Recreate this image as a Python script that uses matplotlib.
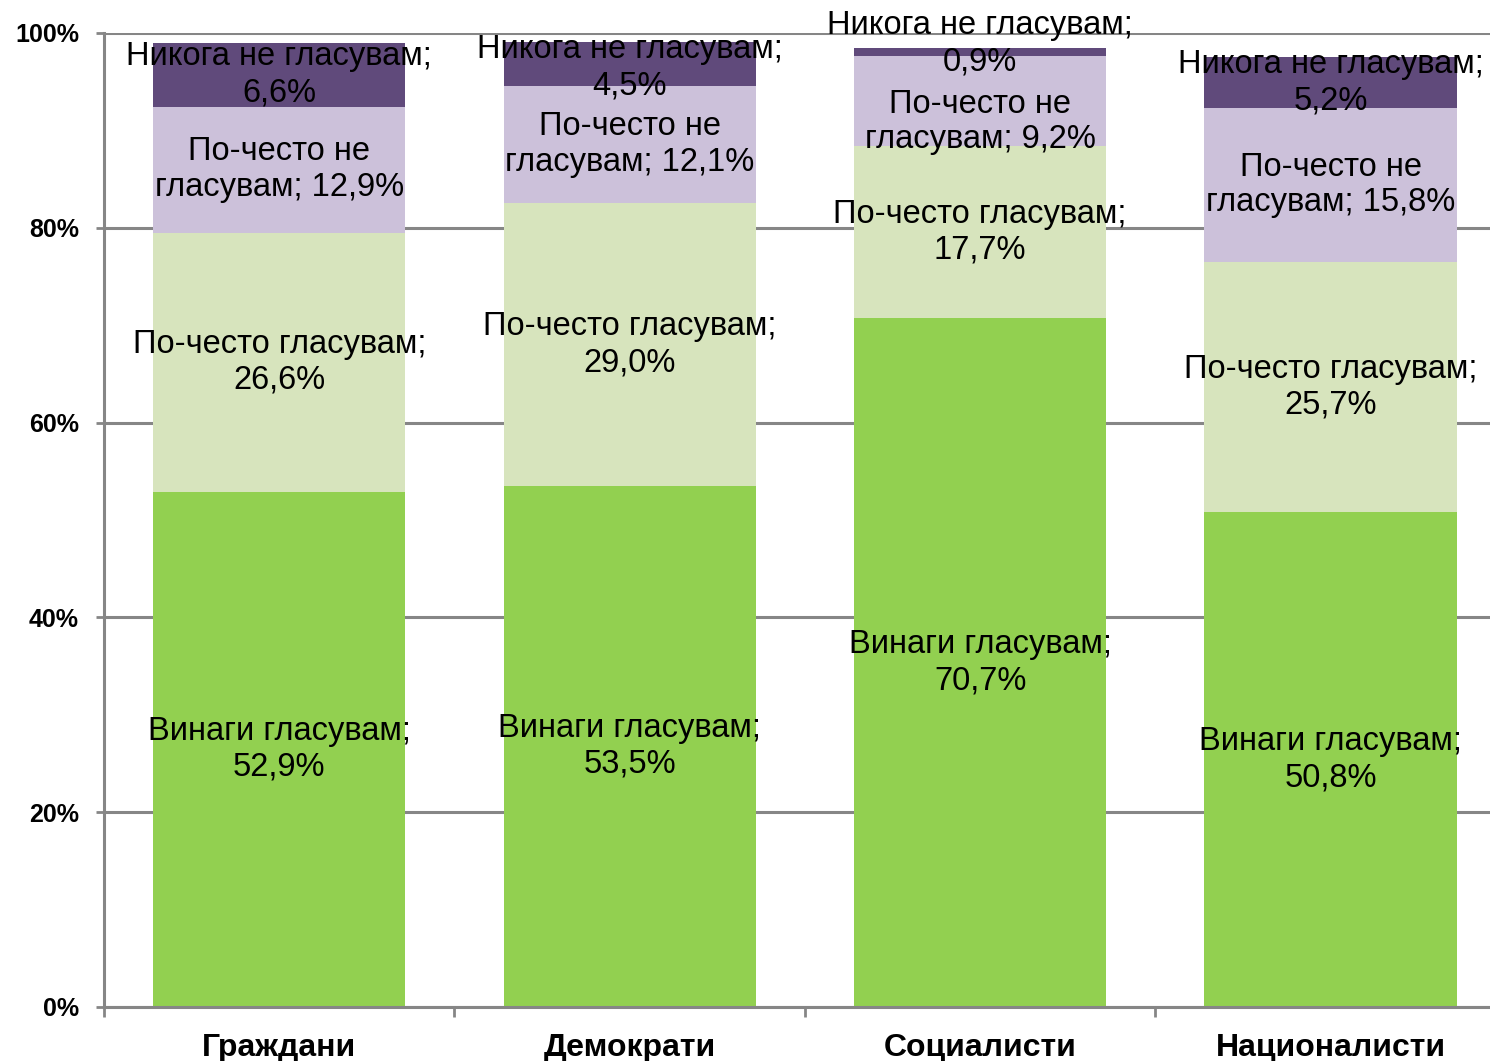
import matplotlib
matplotlib.use("Agg")
import matplotlib.pyplot as plt
import numpy as np

plt.rcParams['font.family'] = ['Liberation Sans', 'DejaVu Sans']

categories = ["Граждани", "Демократи", "Социалисти", "Националисти"]
series_names = ["Винаги гласувам", "По-често гласувам", "По-често не гласувам", "Никога не гласувам"]
always = [52.9, 53.5, 70.7, 50.8]
more_often = [26.6, 29.0, 17.7, 25.7]
more_often_not = [12.9, 12.1, 9.2, 15.8]
never = [6.6, 4.5, 0.9, 5.2]
yticks = [0, 20, 40, 60, 80, 100]

colors = ["#92D050", "#D7E4BD", "#CCC1DA", "#604A7B"]
label_fmt = ["{name};\n{val}", "{name};\n{val}", "По-често не\nгласувам; {val}", "{name};\n{val}"]
# label nudges in points (series index, category index) -> (dx, dy)
nudges = {(3, 2): (0, 6), (2, 2): (0, -15), (3, 1): (0, -3)}

fig = plt.figure(figsize=(14.9, 10.61), dpi=100)
ax = fig.add_axes([104/1490, 54/1061, 1 - 104/1490, (1007-33)/1061])

x = np.arange(len(categories))
data = [always, more_often, more_often_not, never]
bottom = np.zeros(len(categories))
for si, vals in enumerate(data):
    vals = np.array(vals)
    ax.bar(x, vals, bottom=bottom, width=0.72, color=colors[si], zorder=2, linewidth=0)
    for i in range(len(categories)):
        v = vals[i]
        s = f"{v:.1f}%".replace(".", ",")
        txt = label_fmt[si].format(name=series_names[si], val=s)
        dx, dy = nudges.get((si, i), (0, 0))
        ax.annotate(txt, (x[i], bottom[i] + v / 2), xytext=(dx, dy),
                    textcoords="offset points", ha="center", va="center",
                    fontsize=23.5, color="black", zorder=5, linespacing=1.2,
                    annotation_clip=False)
    bottom += vals

ax.set_ylim(0, 100)
ax.set_xlim(-0.5, 3.455)
ax.set_yticks(yticks)
ax.set_yticklabels([f"{t}%" for t in yticks], fontsize=18, fontweight="bold")
ax.yaxis.grid(True, color="#868686", linewidth=2.2, zorder=0)
ax.set_axisbelow(True)

ax.set_xticks(x)
ax.set_xticklabels(categories, fontsize=23, fontweight="bold")
ax.tick_params(axis="x", which="major", length=0, pad=19)
ax.set_xticks([-0.5, 0.5, 1.5, 2.5], minor=True)
ax.tick_params(axis="x", which="minor", length=7, width=2, color="#868686")
ax.tick_params(axis="y", length=6, width=2, color="#868686", pad=12)

for sp in ["top", "right"]:
    ax.spines[sp].set_visible(False)
for sp in ["left", "bottom"]:
    ax.spines[sp].set_color("#868686")
    ax.spines[sp].set_linewidth(2.2)

fig.savefig("out.png", dpi=100)
